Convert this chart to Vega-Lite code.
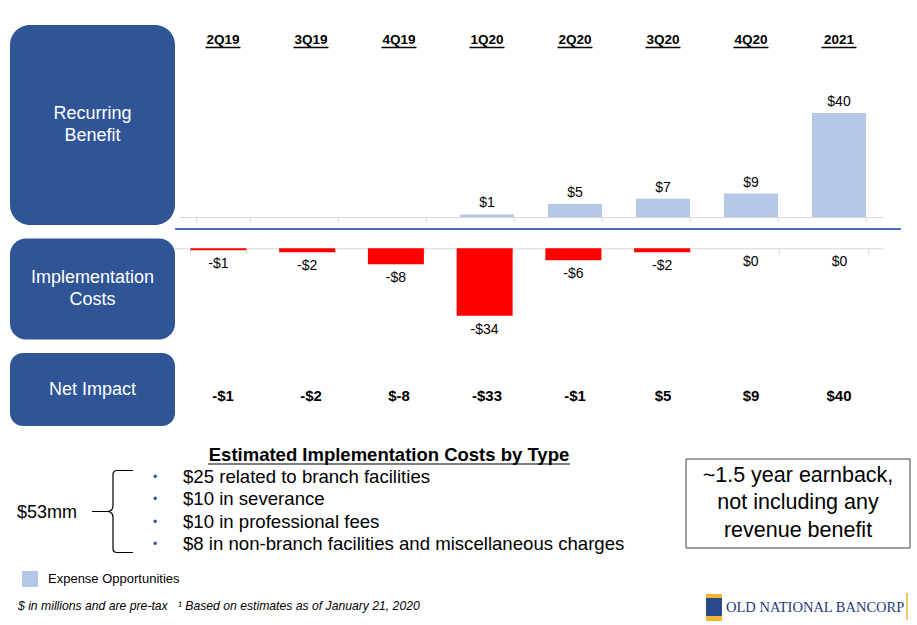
{
  "$schema": "https://vega.github.io/schema/vega-lite/v6.json",
  "padding": {"left": 10, "top": 25, "right": 0, "bottom": 0},
  "config": {
    "view": {"stroke": null},
    "font": "Liberation Sans",
    "text": {"color": "#000000"},
    "locale": {"number": {"decimal": ".", "thousands": ",", "grouping": [3], "currency": ["$", ""], "minus": "-"}}
  },
  "datasets": {
    "q": [
      {"quarter": "2Q19", "benefit": 0, "cost": -1, "net": -1, "netLabel": "-$1"},
      {"quarter": "3Q19", "benefit": 0, "cost": -2, "net": -2, "netLabel": "-$2"},
      {"quarter": "4Q19", "benefit": 0, "cost": -8, "net": -8, "netLabel": "$-8"},
      {"quarter": "1Q20", "benefit": 1, "cost": -34, "net": -33, "netLabel": "-$33"},
      {"quarter": "2Q20", "benefit": 5, "cost": -6, "net": -1, "netLabel": "-$1"},
      {"quarter": "3Q20", "benefit": 7, "cost": -2, "net": 5, "netLabel": "$5"},
      {"quarter": "4Q20", "benefit": 9, "cost": 0, "net": 9, "netLabel": "$9"},
      {"quarter": "2021", "benefit": 40, "cost": 0, "net": 40, "netLabel": "$40"}
    ],
    "items": [
      {"item": "$25 related to branch facilities"},
      {"item": "$10 in severance"},
      {"item": "$10 in professional fees"},
      {"item": "$8 in non-branch facilities and miscellaneous charges"}
    ]
  },
  "columns": 2,
  "align": "each",
  "bounds": "flush",
  "spacing": {"row": 13.5, "column": 4},
  "concat": [
    {
      "width": 165, "height": 200,
      "data": {"values": [{"label": "Recurring\nBenefit"}]},
      "layer": [
        {"mark": {"type": "rect", "color": "#2f5597", "cornerRadius": 20}, "encoding": {}},
        {"mark": {"type": "text", "color": "#ffffff", "fontSize": 18, "lineBreak": "\n", "lineHeight": 22, "baseline": "middle", "dy": -11}, "encoding": {"text": {"field": "label"}}}
      ]
    },
    {
      "width": 704, "height": 192,
      "data": {"name": "q"},
      "encoding": {
        "x": {"field": "quarter", "type": "nominal", "sort": null,
          "scale": {"paddingInner": 0.386, "paddingOuter": 0.193},
          "axis": {"orient": "bottom", "labels": false, "title": null, "domainColor": "#d9d9d9", "tickColor": "#d9d9d9", "tickSize": 5, "tickBand": "extent"}}
      },
      "layer": [
        {"mark": {"type": "bar"},
          "encoding": {
            "y": {"field": "benefit", "type": "quantitative", "scale": {"domain": [0, 73.8], "nice": false}, "axis": null},
            "color": {"datum": "Expense Opportunities", "type": "nominal", "scale": {"range": ["#b4c7e7"]},
              "legend": {"orient": "none", "legendX": 12, "legendY": 546, "title": null, "symbolType": "square", "symbolSize": 256, "symbolStrokeWidth": 0, "labelFontSize": 13, "labelColor": "#000000", "labelOffset": 10, "padding": 0}}
          }},
        {"transform": [{"filter": "datum.benefit > 0"}],
          "mark": {"type": "text", "baseline": "bottom", "dy": -4, "fontSize": 14},
          "encoding": {"y": {"field": "benefit", "type": "quantitative"}, "text": {"field": "benefit", "type": "quantitative", "format": "$d"}}},
        {"mark": {"type": "text", "fontWeight": "bold", "fontSize": 13.5, "baseline": "middle"},
          "encoding": {"y": {"datum": 68, "type": "quantitative"}, "text": {"field": "quarter"}}},
        {"mark": {"type": "bar", "color": "#000000", "width": 35},
          "encoding": {"y": {"datum": 64.9, "type": "quantitative"}, "y2": {"datum": 65.4}}},
        {"mark": {"type": "rule", "color": "#4472c4", "strokeWidth": 1.5},
          "encoding": {"x": {"value": -4}, "x2": {"value": 722}, "y": {"datum": -4.5, "type": "quantitative"}}}
      ]
    },
    {
      "width": 165, "height": 101,
      "data": {"values": [{"label": "Implementation\nCosts"}]},
      "layer": [
        {"mark": {"type": "rect", "color": "#2f5597", "cornerRadius": 16}, "encoding": {}},
        {"mark": {"type": "text", "color": "#ffffff", "fontSize": 18, "lineBreak": "\n", "lineHeight": 22, "baseline": "middle", "dy": -11}, "encoding": {"text": {"field": "label"}}}
      ]
    },
    {
      "width": 704, "height": 101,
      "data": {"name": "q"},
      "encoding": {
        "x": {"field": "quarter", "type": "nominal", "sort": null,
          "scale": {"range": [-5, 705], "paddingInner": 0.369, "paddingOuter": 0.185},
          "axis": {"orient": "bottom", "offset": -91.2, "labels": false, "title": null, "domainColor": "#d9d9d9", "tickColor": "#d9d9d9", "tickSize": 5, "tickBand": "extent"}}
      },
      "layer": [
        {"mark": {"type": "bar", "color": "#ff0000"},
          "encoding": {"y": {"field": "cost", "type": "quantitative", "scale": {"domain": [-45.94, 4.94], "nice": false}, "axis": null}}},
        {"mark": {"type": "text", "baseline": "top", "dy": 7, "fontSize": 14},
          "encoding": {"y": {"field": "cost", "type": "quantitative"}, "text": {"field": "cost", "type": "quantitative", "format": "$d"}}}
      ]
    },
    {
      "width": 165, "height": 73,
      "data": {"values": [{"label": "Net Impact"}]},
      "layer": [
        {"mark": {"type": "rect", "color": "#2f5597", "cornerRadius": 13}, "encoding": {}},
        {"mark": {"type": "text", "color": "#ffffff", "fontSize": 18, "baseline": "middle"}, "encoding": {"text": {"field": "label"}}}
      ]
    },
    {
      "width": 704, "height": 73,
      "data": {"name": "q"},
      "mark": {"type": "text", "fontWeight": "bold", "fontSize": 15, "dy": 6.5, "baseline": "middle"},
      "encoding": {
        "x": {"field": "quarter", "type": "nominal", "sort": null, "scale": {"paddingInner": 0.386, "paddingOuter": 0.193}, "axis": null},
        "text": {"field": "netLabel"}
      }
    },
    {
      "width": 165, "height": 185.5,
      "layer": [
        {"data": {"values": [{"t": "Estimated Implementation Costs by Type"}]},
          "mark": {"type": "text", "fontSize": 18.5, "fontWeight": "bold", "align": "center", "baseline": "middle"},
          "encoding": {"x": {"value": 379}, "y": {"value": 15.5}, "text": {"field": "t"}}},
        {"data": {"values": [{"t": "underline"}]},
          "mark": {"type": "rule", "color": "#000000", "strokeWidth": 1.2},
          "encoding": {"x": {"value": 198}, "x2": {"value": 560}, "y": {"value": 24.5}}},
        {"data": {"name": "items"},
          "mark": {"type": "text", "text": "•", "fontSize": 12, "color": "#2f5597", "align": "center", "baseline": "middle"},
          "encoding": {"x": {"value": 145}, "y": {"field": "item", "type": "nominal", "sort": null, "scale": {"type": "point", "range": [37.5, 104.5], "padding": 0}, "axis": null}}},
        {"data": {"name": "items"},
          "mark": {"type": "text", "fontSize": 18.6, "align": "left", "baseline": "middle"},
          "encoding": {"x": {"value": 173}, "y": {"field": "item", "type": "nominal", "sort": null, "axis": null}, "text": {"field": "item"}}},
        {"data": {"values": [{"t": "$53mm"}]},
          "mark": {"type": "text", "fontSize": 18, "align": "left", "baseline": "middle"},
          "encoding": {"x": {"value": 7}, "y": {"value": 73.5}, "text": {"field": "t"}}},
        {"data": {"values": [{"t": "brace"}]},
          "mark": {"type": "point", "filled": false, "color": "#000000", "strokeWidth": 1.2, "opacity": 1, "size": 4,
            "shape": "M 20 -41 L 4 -41 Q 0 -41 0 -37 L 0 -6 Q 0 0 -6 0 L -21 0 M -6 0 Q 0 0 0 6 L 0 37 Q 0 41 4 41 L 20 41"},
          "encoding": {"x": {"value": 103}, "y": {"value": 72}}},
        {"data": {"values": [{"t": "box"}]},
          "mark": {"type": "rect", "filled": false, "color": "#404040", "strokeWidth": 1},
          "encoding": {"x": {"value": 676}, "x2": {"value": 900}, "y": {"value": 19.5}, "y2": {"value": 108.5}}},
        {"data": {"values": [{"t": "~1.5 year earnback,\nnot including any\nrevenue benefit"}]},
          "mark": {"type": "text", "fontSize": 21.5, "align": "center", "baseline": "middle", "lineBreak": "\n", "lineHeight": 27.5},
          "encoding": {"x": {"value": 788}, "y": {"value": 36}, "text": {"field": "t"}}},
        {"data": {"values": [{"t": "$ in millions and are pre-tax \u00a0 ¹ Based on estimates as of January 21, 2020"}]},
          "mark": {"type": "text", "fontSize": 12.2, "fontStyle": "italic", "align": "left", "baseline": "middle"},
          "encoding": {"x": {"value": 8}, "y": {"value": 166}, "text": {"field": "t"}}},
        {"data": {"values": [{"t": "gold"}]},
          "mark": {"type": "rect", "color": "#f5b335"},
          "encoding": {"x": {"value": 696}, "x2": {"value": 712}, "y": {"value": 154.5}, "y2": {"value": 181.5}}},
        {"data": {"values": [{"t": "blue"}]},
          "mark": {"type": "rect", "color": "#2b4a8b"},
          "encoding": {"x": {"value": 696}, "x2": {"value": 712}, "y": {"value": 158.5}, "y2": {"value": 176.5}}},
        {"data": {"values": [{"t": "OLD NATIONAL BANCORP"}]},
          "mark": {"type": "text", "font": "Liberation Serif", "fontSize": 14.5, "color": "#1f3a78", "align": "left", "baseline": "middle"},
          "encoding": {"x": {"value": 716}, "y": {"value": 168}, "text": {"field": "t"}}},
        {"data": {"values": [{"t": "sep"}]},
          "mark": {"type": "rule", "color": "#f5b335", "strokeWidth": 1.5},
          "encoding": {"x": {"value": 897}, "y": {"value": 153.5}, "y2": {"value": 180.5}}}
      ]
    }
  ]
}
